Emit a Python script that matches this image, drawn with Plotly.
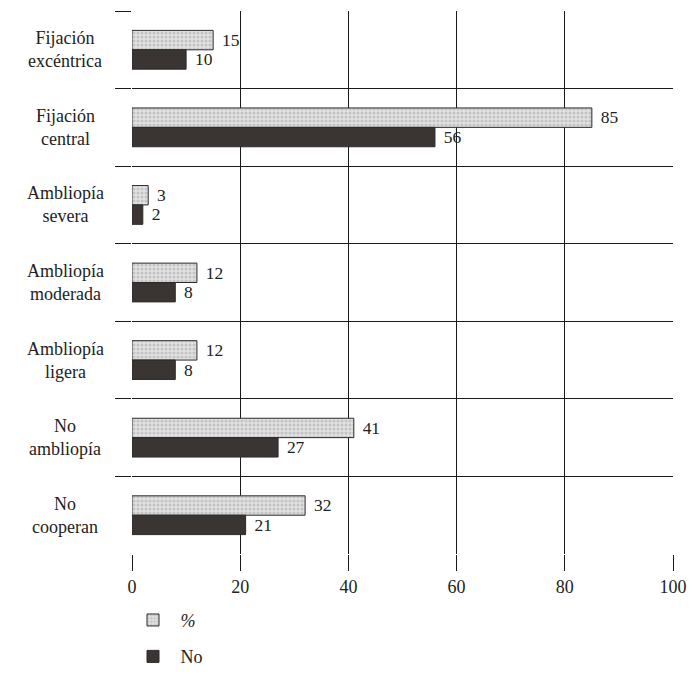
import plotly.graph_objects as go

# Categories, top to bottom
categories = [
    "Fijación<br>excéntrica",
    "Fijación<br>central",
    "Ambliopía<br>severa",
    "Ambliopía<br>moderada",
    "Ambliopía<br>ligera",
    "No<br>ambliopía",
    "No<br>cooperan",
]
percent_values = [15, 85, 3, 12, 12, 41, 32]
count_values = [10, 56, 2, 8, 8, 27, 21]
x_ticks = [0, 20, 40, 60, 80, 100]

SERIF = "Liberation Serif"
INK = "#222222"
GAP = "\u2004"  # small space between bar end and its value label

fig = go.Figure()

fig.add_trace(go.Bar(
    y=categories,
    x=percent_values,
    orientation="h",
    name="<i>%</i>",
    legendgroup="pct",
    text=[GAP + str(v) for v in percent_values],
    textposition="outside",
    textfont=dict(family=SERIF, size=18, color=INK),
    marker=dict(
        color="#e2e2e2",
        line=dict(color="#2a2a2a", width=1),
        pattern=dict(shape=".", fgcolor="#a6a6a6", bgcolor="#e2e2e2",
                     size=4, solidity=0.5),
    ),
    cliponaxis=False,
))

fig.add_trace(go.Bar(
    y=categories,
    x=count_values,
    orientation="h",
    name="No",
    legendgroup="num",
    text=[GAP + str(v) for v in count_values],
    textposition="outside",
    textfont=dict(family=SERIF, size=18, color=INK),
    marker=dict(color="#3a3533", line=dict(color="#2a2a2a", width=1)),
    cliponaxis=False,
))

plot_left, plot_right = 131.6, 672.7
label_centre_px = 65

# Category labels, centred two-line text to the left of the plot
annotations = [
    dict(
        x=(label_centre_px - plot_left) / (plot_right - plot_left),
        xref="x domain", y=cat, yref="y",
        text=cat, showarrow=False, align="center",
        xanchor="center", yanchor="middle",
        font=dict(family=SERIF, size=18, color=INK),
    )
    for cat in categories
]

fig.update_layout(
    width=700, height=700,
    margin=dict(l=plot_left, r=700 - plot_right, t=11, b=146),
    paper_bgcolor="white", plot_bgcolor="white",
    barmode="group", bargap=0.5, bargroupgap=0,
    showlegend=True,
    legend=dict(
        x=-0.012, xanchor="left", y=-0.088, yanchor="top",
        font=dict(family=SERIF, size=18, color=INK),
        traceorder="grouped", tracegroupgap=10,
        itemwidth=45,
    ),
    annotations=annotations,
    xaxis=dict(
        range=[0, 100], tickvals=x_ticks, ticktext=[str(v) for v in x_ticks],
        showgrid=True, gridcolor="#1a1a1a", gridwidth=1,
        ticks="outside", ticklen=16, tickcolor="#1a1a1a",
        tickfont=dict(family=SERIF, size=18, color=INK),
        zeroline=False, showline=False,
    ),
    yaxis=dict(
        categoryorder="array", categoryarray=categories,
        autorange="reversed",
        tickson="boundaries", showgrid=True, gridcolor="#1a1a1a", gridwidth=1,
        ticks="outside", ticklen=16, tickcolor="#1a1a1a",
        showticklabels=False, zeroline=False, showline=False,
    ),
)

fig.write_html("out.html")
